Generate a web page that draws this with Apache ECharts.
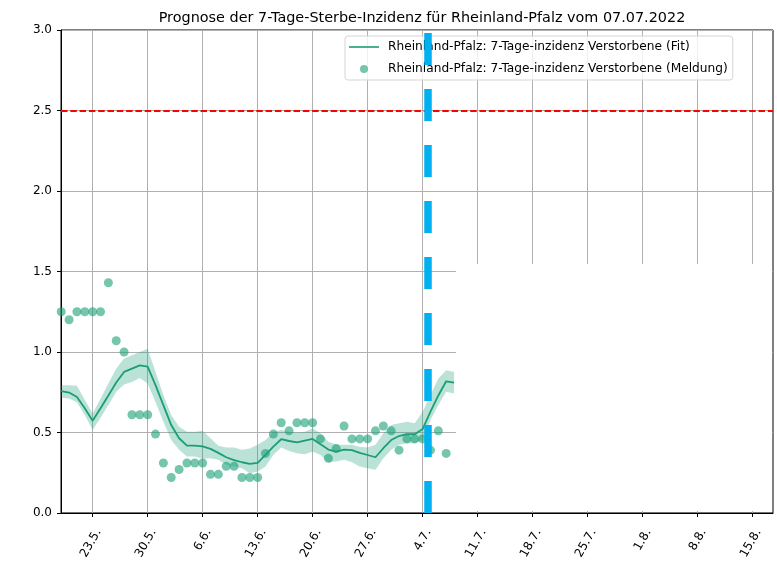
<!DOCTYPE html>
<html>
<head>
<meta charset="utf-8">
<script src="https://cdn.jsdelivr.net/npm/echarts@6/dist/echarts.min.js"></script>
<style>
html, body { margin: 0; padding: 0; background: #fff; }
#chart { width: 777px; height: 562px; }
</style>
</head>
<body>
<div id="chart"></div>
<script>
// x values are days counted from 23.5. (= 0)
const tickDays = [0, 7, 14, 21, 28, 35, 42, 49, 56, 63, 70, 77, 84]
const tickLabels = ['23.5.', '30.5.', '6.6.', '13.6.', '20.6.', '27.6.', '4.7.',
    '11.7.', '18.7.', '25.7.', '1.8.', '8.8.', '15.8.']
const labelShift = 0.75   // rotated labels sit centred under their tick

const reportDays = [-4, -3, -2, -1, 0, 1, 2, 3, 4, 5, 6, 7, 8, 9, 10, 11, 12, 13, 14, 15,
    16, 17, 18, 19, 20, 21, 22, 23, 24, 25, 26, 27, 28, 29, 30, 31, 32, 33, 34, 35,
    36, 37, 38, 39, 40, 41, 42, 43, 44, 45]
const reported = [1.25, 1.20, 1.25, 1.25, 1.25, 1.25, 1.43, 1.07, 1.00, 0.61, 0.61, 0.61, 0.49, 0.31, 0.22, 0.27, 0.31, 0.31, 0.31, 0.24,
    0.24, 0.29, 0.29, 0.22, 0.22, 0.22, 0.37, 0.49, 0.56, 0.51, 0.56, 0.56, 0.56, 0.46, 0.34, 0.40, 0.54, 0.46, 0.46, 0.46,
    0.51, 0.54, 0.51, 0.39, 0.46, 0.46, 0.46, 0.39, 0.51, 0.37]

const fitDays = [-4, -3, -2, -1, 0, 1, 2, 3, 4, 5, 6, 7, 8, 9, 10, 11, 12, 13, 14, 15,
    16, 17, 18, 19, 20, 21, 22, 23, 24, 25, 26, 27, 28, 29, 30, 31, 32, 33, 34, 35,
    36, 37, 38, 39, 40, 41, 42, 43, 44, 45, 46]
const fit = [0.757, 0.748, 0.72, 0.65, 0.573, 0.65, 0.73, 0.81, 0.876, 0.897, 0.917, 0.909, 0.794, 0.67, 0.546, 0.464, 0.418, 0.418, 0.414, 0.398,
    0.373, 0.346, 0.328, 0.315, 0.305, 0.311, 0.361, 0.412, 0.458, 0.447, 0.439, 0.45, 0.46, 0.427, 0.394, 0.381, 0.394, 0.39, 0.373, 0.36,
    0.346, 0.402, 0.453, 0.478, 0.489, 0.489, 0.521, 0.629, 0.73, 0.818, 0.81]
const fitUpper = [0.794, 0.794, 0.79, 0.701, 0.618, 0.71, 0.804, 0.897, 0.959, 0.979, 1.0, 1.02, 0.876, 0.732, 0.608, 0.536, 0.505, 0.505, 0.51, 0.464,
    0.418, 0.406, 0.406, 0.392, 0.40, 0.423, 0.453, 0.505, 0.515, 0.505, 0.50, 0.505, 0.526, 0.495, 0.443, 0.423, 0.423, 0.423, 0.412, 0.406,
    0.423, 0.495, 0.546, 0.557, 0.567, 0.557, 0.629, 0.732, 0.835, 0.886, 0.876]
const fitLower = [0.715, 0.711, 0.687, 0.608, 0.515, 0.592, 0.67, 0.753, 0.798, 0.814, 0.839, 0.804, 0.69, 0.567, 0.453, 0.392, 0.35, 0.35, 0.336, 0.34,
    0.33, 0.299, 0.289, 0.278, 0.247, 0.258, 0.289, 0.36, 0.406, 0.385, 0.371, 0.365, 0.381, 0.36, 0.315, 0.32, 0.33, 0.315, 0.289, 0.278,
    0.268, 0.34, 0.392, 0.423, 0.433, 0.433, 0.453, 0.577, 0.67, 0.753, 0.742]

const threshold = 2.5
const forecastDay = 42.7   // dashed blue marker, shortly after 4.7.

const nameFit = 'Rheinland-Pfalz: 7-Tage-inzidenz Verstorbene (Fit)'
const nameReport = 'Rheinland-Pfalz: 7-Tage-inzidenz Verstorbene (Meldung)'

const green = '#1b9e77'
const font = 'DejaVu Sans'

const chart = echarts.init(document.getElementById('chart'))

function renderBand(params, api) {
    if (params.dataIndex !== 0) return null
    const pts = []
    for (let i = 0; i < fitDays.length; i++) pts.push(api.coord([fitDays[i], fitUpper[i]]))
    for (let i = fitDays.length - 1; i >= 0; i--) pts.push(api.coord([fitDays[i], fitLower[i]]))
    return {
        type: 'polygon',
        shape: { points: pts },
        style: { fill: green, opacity: 0.3 }
    }
}

const option = {
    backgroundColor: '#fff',
    animation: false,
    textStyle: { fontFamily: font },
    title: {
        text: 'Prognose der 7-Tage-Sterbe-Inzidenz für Rheinland-Pfalz vom 07.07.2022',
        left: 417,
        textAlign: 'center',
        top: 6,
        textStyle: { fontFamily: font, fontSize: 14.4, fontWeight: 'normal', color: '#000' }
    },
    legend: {
        orient: 'vertical',
        left: 345,
        top: 36,
        padding: [4, 5, 4, 4],
        itemWidth: 30,
        itemHeight: 14,
        itemGap: 8,
        backgroundColor: 'rgba(255,255,255,0.8)',
        borderColor: '#d5d5d5',
        borderWidth: 1,
        borderRadius: 3,
        textStyle: { fontFamily: font, fontSize: 12.2, color: '#000', padding: [0, 0, 0, 4] },
        data: [
            { name: nameFit, icon: 'path://M0,0 M30,14 M0,6.2 L30,6.2 L30,7.8 L0,7.8 Z' },
            { name: nameReport, icon: 'path://M0,0 M30,14 M11,7 A4,4 0 1,0 19,7 A4,4 0 1,0 11,7 Z' }
        ]
    },
    grid: { left: 61, right: 4, top: 30, bottom: 47, show: true, borderColor: '#000', borderWidth: 1 },
    xAxis: {
        type: 'value',
        min: -4.03,
        max: 86.6,
        axisLine: { show: true, onZero: false, lineStyle: { color: '#000', width: 1 } },
        axisTick: { show: true, length: 4, lineStyle: { color: '#000' }, customValues: tickDays },
        axisLabel: {
            customValues: tickDays.map(d => d + labelShift),
            rotate: 60,
            margin: 17,
            fontSize: 12,
            color: '#000',
            fontFamily: font,
            formatter: v => tickLabels[tickDays.indexOf(Math.round(v - labelShift))] || ''
        },
        splitLine: { show: true, lineStyle: { color: '#b0b0b0', width: 1 } }
    },
    yAxis: {
        type: 'value',
        min: 0,
        max: 3,
        interval: 0.5,
        axisLine: { show: true, onZero: false, lineStyle: { color: '#000', width: 1 } },
        axisTick: { show: true, length: 4, lineStyle: { color: '#000' } },
        axisLabel: { fontSize: 12, color: '#000', margin: 9, fontFamily: font, formatter: v => v.toFixed(1) },
        splitLine: { show: true, lineStyle: { color: '#b0b0b0', width: 1 } }
    },
    graphic: [
        // blank patch in the lower right of the plot
        { type: 'rect', z: 1, silent: true, shape: { x: 456, y: 264, width: 316, height: 247 }, style: { fill: '#fff' } }
    ],
    series: [
        {
            name: 'band',
            type: 'custom',
            silent: true,
            z: 2,
            renderItem: renderBand,
            data: fitDays.map((d, i) => [d, fit[i]])
        },
        {
            name: nameFit,
            type: 'line',
            symbol: 'none',
            z: 3,
            color: green,
            lineStyle: { color: green, width: 1.8 },
            data: fitDays.map((d, i) => [d, fit[i]]),
            markLine: {
                silent: true,
                symbol: 'none',
                label: { show: false },
                lineStyle: { color: '#ff0000', width: 1.8, type: [6.5, 2.8] },
                data: [{ yAxis: threshold }]
            }
        },
        {
            name: nameReport,
            type: 'scatter',
            symbolSize: 9,
            z: 4,
            clip: false,
            itemStyle: { color: green, opacity: 0.6 },
            data: reportDays.map((d, i) => [d, reported[i]])
        },
        {
            name: 'forecast',
            type: 'line',
            z: 6,
            data: [],
            markLine: {
                silent: true,
                symbol: 'none',
                label: { show: false },
                lineStyle: { color: '#00b0f0', width: 7.5, type: [32, 24], opacity: 1 },
                data: [[{ coord: [forecastDay, 0] }, { coord: [forecastDay, 3] }]]
            }
        }
    ]
}
chart.setOption(option)
</script>
</body>
</html>
